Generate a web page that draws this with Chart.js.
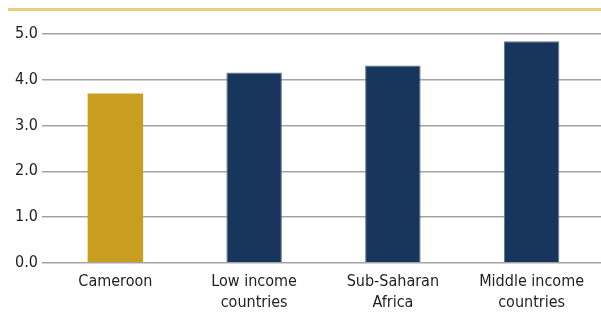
<!DOCTYPE html>
<html>
<head>
<meta charset="utf-8">
<script src="https://cdn.jsdelivr.net/npm/chart.js@4"></script>
<style>
  html, body { margin: 0; padding: 0; background: #fff; }
  #wrap { position: relative; width: 601px; height: 314px; }
  #rule { position: absolute; left: 8px; right: 0; top: 8px; height: 3px; background: #e8cd84; }
</style>
</head>
<body>
<div id="wrap">
  <canvas id="chart" width="601" height="314"></canvas>
  <div id="rule"></div>
</div>
<script>
// Data
const categories = ['Cameroon', ['Low income', 'countries'], ['Sub-Saharan', 'Africa'], ['Middle income', 'countries']];
const values = [3.70, 4.16, 4.31, 4.84];
const barColors = ['#c89d20', '#18365c', '#18365c', '#18365c'];
const edgeColors = ['#c89d20', '#5f7390', '#5f7390', '#5f7390'];

const fontFamily = "'Liberation Sans Narrow', 'DejaVu Sans Condensed', 'Roboto', sans-serif";

const ctx = document.getElementById('chart').getContext('2d');
const myChart = new Chart(ctx, {
    type: 'bar',
    data: {
        labels: categories,
        datasets: [{
            data: values,
            backgroundColor: barColors,
            borderColor: edgeColors,
            borderWidth: [0, 1, 1, 1],
            barPercentage: 0.4,
            categoryPercentage: 1.0
        }]
    },
    options: {
        responsive: false,
        animation: false,
        layout: { padding: { top: 34, right: 0, left: 0, bottom: 0 } },
        plugins: {
            legend: { display: false },
            tooltip: { enabled: false }
        },
        scales: {
            x: {
                grid: { display: false },
                border: { display: false },
                ticks: {
                    color: '#1e1e1e',
                    font: { family: fontFamily, size: 16, lineHeight: 1.35 },
                    maxRotation: 0,
                    autoSkip: false,
                    padding: 0
                }
            },
            y: {
                min: 0,
                max: 5,
                border: { display: false },
                grid: {
                    color: '#a3a3a3',
                    lineWidth: 1.5,
                    tickLength: 4,
                    drawTicks: true
                },
                ticks: {
                    stepSize: 1,
                    color: '#1e1e1e',
                    padding: 4,
                    font: { family: fontFamily, size: 16 },
                    callback: v => v.toFixed(1)
                },
                afterFit: scale => { scale.width = 46; }
            }
        }
    }
});
</script>
</body>
</html>
